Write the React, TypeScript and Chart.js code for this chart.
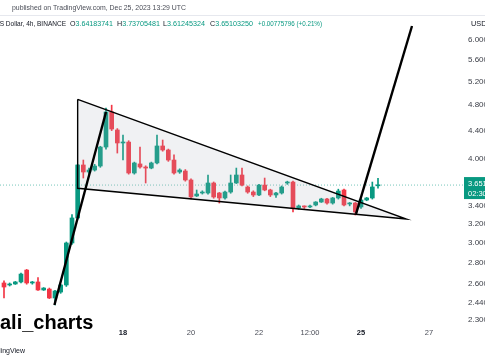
import { useEffect, useRef } from "react";
import { Chart, registerables } from "chart.js";
Chart.register(...registerables);

// ---- data ----
// candle times are hours relative to Dec 18 00:00 (4h candles)
const firstCandleHour = -84;
const candleStepHours = 4;
const opens = [
  2.611, 2.593, 2.602, 2.62, 2.729, 2.611, 2.62, 2.549, 2.557, 2.48,
  2.531, 2.593, 2.994, 3.262, 3.911, 3.818, 3.844, 3.897, 4.159, 4.689,
  4.409, 4.217, 4.23, 3.805, 3.925, 3.884, 3.87, 3.938, 4.174, 4.117,
  3.978, 3.818, 3.831, 3.715, 3.517, 3.553, 3.553, 3.677, 3.553, 3.493,
  3.565, 3.677, 3.779, 3.627, 3.565, 3.529, 3.651, 3.59, 3.529, 3.553,
  3.677, 3.689, 3.376, 3.399, 3.387, 3.41, 3.445, 3.481, 3.433, 3.493,
  3.59, 3.422, 3.433, 3.387, 3.469, 3.493, 3.642,
];
const highs = [
  2.63, 2.611, 2.625, 2.7, 2.735, 2.625, 2.66, 2.57, 2.566, 2.545,
  2.6, 3.004, 3.3, 3.92, 3.978, 3.87, 3.92, 4.17, 4.753, 4.8,
  4.43, 4.334, 4.25, 3.95, 4.159, 3.9, 3.95, 4.334, 4.26, 4.13,
  4.05, 3.86, 3.85, 3.73, 3.59, 3.58, 3.779, 3.69, 3.56, 3.577,
  3.779, 3.87, 3.87, 3.64, 3.58, 3.66, 3.74, 3.6, 3.56, 3.64,
  3.7, 3.7, 3.41, 3.4, 3.41, 3.45, 3.49, 3.49, 3.5, 3.6,
  3.6, 3.44, 3.44, 3.48, 3.5, 3.689, 3.737,
];
const lows = [
  2.48, 2.584, 2.598, 2.611, 2.6, 2.6, 2.545, 2.545, 2.475, 2.421,
  2.52, 2.58, 2.98, 3.25, 3.74, 3.8, 3.83, 3.88, 4.13, 4.4,
  4.074, 3.978, 3.79, 3.79, 3.87, 3.677, 3.86, 3.925, 4.1, 3.96,
  3.79, 3.8, 3.7, 3.481, 3.51, 3.54, 3.54, 3.49, 3.433, 3.48,
  3.55, 3.67, 3.64, 3.55, 3.51, 3.52, 3.58, 3.51, 3.5, 3.54,
  3.66, 3.33, 3.36, 3.37, 3.38, 3.4, 3.44, 3.42, 3.42, 3.48,
  3.4, 3.4, 3.295, 3.37, 3.46, 3.48, 3.612,
];
const closes = [
  2.575, 2.602, 2.62, 2.692, 2.611, 2.62, 2.549, 2.566, 2.48, 2.54,
  2.593, 2.994, 3.262, 3.911, 3.818, 3.844, 3.897, 4.159, 4.689, 4.424,
  4.217, 4.23, 3.805, 3.938, 3.884, 3.87, 3.938, 4.174, 4.117, 3.978,
  3.805, 3.844, 3.715, 3.505, 3.541, 3.565, 3.677, 3.505, 3.493, 3.565,
  3.677, 3.779, 3.651, 3.565, 3.529, 3.651, 3.59, 3.529, 3.553, 3.627,
  3.689, 3.376, 3.399, 3.387, 3.399, 3.445, 3.481, 3.433, 3.493, 3.577,
  3.41, 3.433, 3.33, 3.469, 3.493, 3.627, 3.651,
];

const yTickValues = [6.0, 5.6, 5.2, 4.8, 4.4, 4.0, 3.4, 3.2, 3.0, 2.8, 2.6, 2.44, 2.3];
const xTickHours = [0, 48, 96, 132, 168, 216];
const xTickLabels = ["18", "20", "22", "12:00", "25", "27"];
const xTickBold = [true, false, false, false, true, false];

// drawings (hours, price)
const wedgeHours = [-32, -32, 200, -32];
const wedgePrices = [4.897, 3.611, 3.25, 4.897];
const poleHours = [-48.4, -12];
const polePrices = [2.421, 4.689];
const breakoutHours = [164.5, 204];
const breakoutPrices = [3.307, 6.295];

const lastPrice = 3.651;
const lastPriceLabel = "3.651";
const countdownLabel = "02:30";
const publishedText = "published on TradingView.com, Dec 25, 2023 13:29 UTC";
const symbolText = "US Dollar, 4h, BINANCE";
const ohlcLetters = ["O", "H", "L", "C"];
const ohlcValues = ["3.64183741", "3.73705481", "3.61245324", "3.65103250"];
const changeText = "+0.00775796 (+0.21%)";
const currencyText = "USD";
const watermarkText = "ali_charts";
const logoText = "TradingView";

const X_MIN = -86.82;
const X_MAX = 241.41;
const Y_MIN = 2.2687;
const Y_MAX = 6.559;

const GREEN = "#089981";
const RED = "#f23645";
const FONT = '"Liberation Sans", Arial, sans-serif';

// draw text squeezed horizontally into a given width
function fitText(ctx: CanvasRenderingContext2D, text: string, x: number, y: number, width: number) {
  const w = ctx.measureText(text).width;
  const sx = w > 0 ? width / w : 1;
  ctx.save();
  ctx.translate(x, y);
  ctx.scale(sx, 1);
  ctx.fillText(text, 0, 0);
  ctx.restore();
}

const overlayPlugin = {
  id: "overlay",
  afterDraw(chart: any) {
    const ctx = chart.ctx as CanvasRenderingContext2D;
    ctx.save();
    ctx.strokeStyle = "#e6e8ee";
    ctx.lineWidth = 1;
    ctx.beginPath();
    ctx.moveTo(0, 15.5);
    ctx.lineTo(485, 15.5);
    ctx.stroke();

    ctx.textBaseline = "middle";
    ctx.textAlign = "left";
    ctx.font = `7.5px ${FONT}`;
    ctx.fillStyle = "#4a4d57";
    fitText(ctx, publishedText, 12, 8, 174);

    ctx.font = `7.3px ${FONT}`;
    ctx.fillStyle = "#131722";
    fitText(ctx, symbolText, -5, 24, 71);
    const ohlcX = [70, 117, 163, 210];
    const ohlcW = [43, 43, 42, 43];
    ohlcLetters.forEach((l, i) => {
      const full = l + ohlcValues[i];
      const sx = ohlcW[i] / ctx.measureText(full).width;
      const lw = ctx.measureText(l).width * sx;
      ctx.fillStyle = "#131722";
      fitText(ctx, l, ohlcX[i], 24, lw);
      ctx.fillStyle = GREEN;
      fitText(ctx, ohlcValues[i], ohlcX[i] + lw, 24, ohlcW[i] - lw);
    });
    ctx.fillStyle = GREEN;
    fitText(ctx, changeText, 258, 24, 64);
    ctx.fillStyle = "#131722";
    ctx.fillText(currencyText, 471, 24);

    // last price label
    const yScale = chart.scales.y;
    const py = yScale.getPixelForValue(lastPrice);
    ctx.fillStyle = GREEN;
    ctx.fillRect(464, py - 8, 21, 22);
    ctx.fillStyle = "#ffffff";
    ctx.font = `7.5px ${FONT}`;
    ctx.fillText(lastPriceLabel, 468, py - 1);
    ctx.fillText(countdownLabel, 468, py + 8.5);

    // watermark
    ctx.fillStyle = "#000000";
    ctx.font = `bold 20px ${FONT}`;
    ctx.textBaseline = "alphabetic";
    ctx.fillText(watermarkText, 0, 329);

    ctx.font = `7px ${FONT}`;
    ctx.textAlign = "right";
    ctx.textBaseline = "middle";
    ctx.fillStyle = "#131722";
    ctx.fillText(logoText, 25, 351);
    ctx.restore();
  },
};

export default function App() {
  const ref = useRef<HTMLCanvasElement>(null);
  useEffect(() => {
    document.body.style.margin = "0";
    const canvas = ref.current!;
    const hours = opens.map((_, i) => firstCandleHour + i * candleStepHours);
    const colors = closes.map((c, i) => (c >= opens[i] ? GREEN : RED));
    const toPts = (xs: number[], ys: number[]) => xs.map((x, i) => ({ x, y: ys[i] }));

    const chart = new Chart(canvas, {
      type: "bar",
      data: {
        datasets: [
          {
            type: "line",
            label: "breakout",
            data: toPts(breakoutHours, breakoutPrices),
            borderColor: "#000",
            borderWidth: 2.4,
            pointRadius: 0,
            fill: false,
            order: 0,
          } as any,
          {
            type: "line",
            label: "pole",
            data: toPts(poleHours, polePrices),
            borderColor: "#000",
            borderWidth: 2.4,
            pointRadius: 0,
            fill: false,
            order: 0,
          } as any,
          {
            type: "line",
            label: "wedge",
            data: toPts(wedgeHours, wedgePrices),
            borderColor: "#000",
            borderWidth: 1.4,
            backgroundColor: "rgba(170,176,190,0.18)",
            fill: "shape",
            pointRadius: 0,
            order: 1,
          } as any,
          {
            type: "bar",
            label: "body",
            data: hours.map((h, i) => ({ x: h, y: [Math.min(opens[i], closes[i]), Math.max(opens[i], closes[i])] })),
            backgroundColor: colors,
            barThickness: 4,
            minBarLength: 1,
            grouped: false,
            borderWidth: 0,
            order: 2,
          } as any,
          {
            type: "bar",
            label: "wick",
            data: hours.map((h, i) => ({ x: h, y: [lows[i], highs[i]] })),
            backgroundColor: colors,
            barThickness: 1,
            grouped: false,
            borderWidth: 0,
            order: 3,
          } as any,
          {
            type: "line",
            label: "price",
            data: [
              { x: X_MIN, y: lastPrice },
              { x: X_MAX, y: lastPrice },
            ],
            borderColor: "rgba(8,153,129,0.55)",
            borderDash: [1, 2],
            borderWidth: 1,
            pointRadius: 0,
            fill: false,
            order: 4,
          } as any,
        ],
      },
      options: {
        animation: false,
        responsive: false,
        devicePixelRatio: 1,
        layout: { padding: { top: 14, left: 0, right: 0, bottom: 0 } },
        plugins: { legend: { display: false }, tooltip: { enabled: false } },
        scales: {
          x: {
            type: "linear",
            min: X_MIN,
            max: X_MAX,
            bounds: "data",
            offset: false,
            grid: { display: false, drawTicks: false },
            border: { display: false },
            afterBuildTicks: (s: any) => {
              s.ticks = xTickHours.map((v) => ({ value: v }));
            },
            afterFit: (s: any) => {
              s.height = 36;
            },
            ticks: {
              autoSkip: false,
              maxRotation: 0,
              padding: 4,
              color: (c: any) => (xTickBold[c.index] ? "#131722" : "#4a4d57"),
              font: (c: any) => ({ family: FONT, size: 7.5, weight: xTickBold[c.index] ? "bold" : "normal" }),
              callback: (_v: any, i: number) => xTickLabels[i],
            },
          },
          y: {
            type: "logarithmic",
            position: "right",
            min: Y_MIN,
            max: Y_MAX,
            bounds: "data",
            grid: { display: false, drawTicks: false },
            border: { display: false },
            afterBuildTicks: (s: any) => {
              s.ticks = yTickValues.map((v) => ({ value: v }));
            },
            afterFit: (s: any) => {
              s.width = 20;
            },
            ticks: {
              autoSkip: false,
              padding: 3,
              color: "#3b3e47",
              font: { family: FONT, size: 8 },
              callback: (v: any) => Number(v).toFixed(4),
            },
          },
        },
      } as any,
      plugins: [overlayPlugin],
    });
    return () => chart.destroy();
  }, []);
  return (
    <div style={{ width: 485, height: 360, position: "relative", background: "#fff" }}>
      <canvas ref={ref} width={485} height={360} style={{ display: "block" }} />
    </div>
  );
}
